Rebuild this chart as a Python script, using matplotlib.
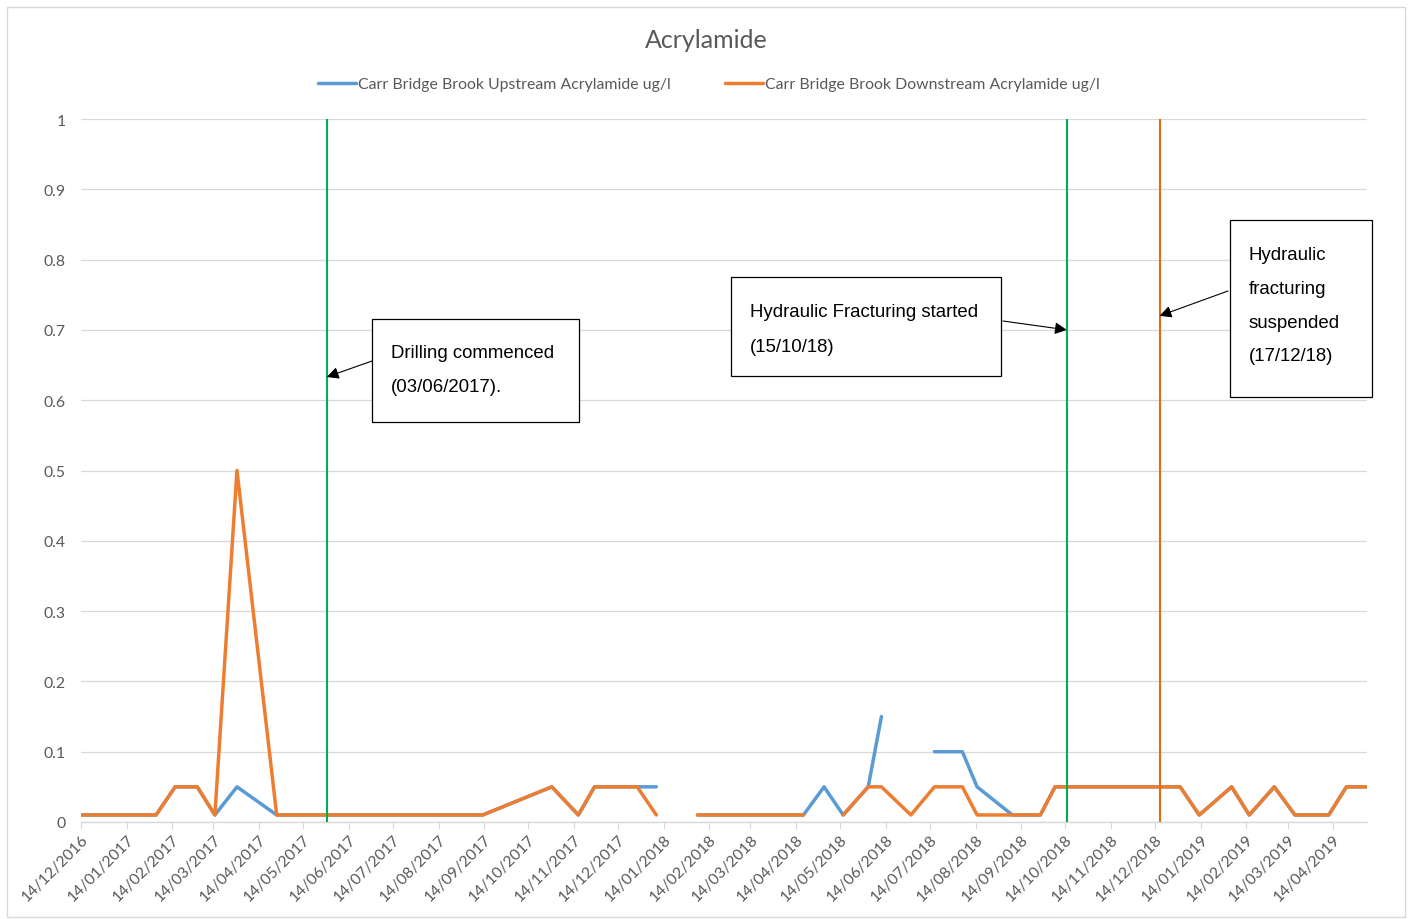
import numpy as np
import pandas as pd
import matplotlib
matplotlib.use("Agg")
import matplotlib.pyplot as plt
import matplotlib.dates as mdates
from matplotlib.patches import Rectangle

# ---------------- data ----------------
sample_dates = ["2016-12-14", "2017-02-03", "2017-02-16", "2017-03-03", "2017-03-15",
                "2017-03-30", "2017-04-26", "2017-09-13", "2017-10-30", "2017-11-17",
                "2017-11-28", "2017-12-27", "2018-01-09", "2018-01-23", "2018-02-06",
                "2018-04-19", "2018-05-03", "2018-05-16", "2018-06-02", "2018-06-11",
                "2018-07-01", "2018-07-17", "2018-08-05", "2018-08-15", "2018-09-08",
                "2018-09-27", "2018-10-07", "2018-12-31", "2019-01-13", "2019-02-04",
                "2019-02-16", "2019-03-05", "2019-03-19", "2019-04-11", "2019-04-23",
                "2019-05-07"]
nan = np.nan
upstream = [0.01, 0.01, 0.05, 0.05, 0.01, 0.05, 0.01, 0.01, 0.05, 0.01,
            0.05, 0.05, 0.05, nan, 0.01, 0.01, 0.05, 0.01, 0.05, 0.15,
            nan, 0.10, 0.10, 0.05, 0.01, 0.01, 0.05, 0.05, 0.01, 0.05,
            0.01, 0.05, 0.01, 0.01, 0.05, 0.05]
downstream = [0.01, 0.01, 0.05, 0.05, 0.01, 0.50, 0.01, 0.01, 0.05, 0.01,
              0.05, 0.05, 0.01, nan, 0.01, 0.01, nan, 0.01, 0.05, 0.05,
              0.01, 0.05, 0.05, 0.01, 0.01, 0.01, 0.05, 0.05, 0.01, 0.05,
              0.01, 0.05, 0.01, 0.01, 0.05, 0.05]
series_names = ["Carr Bridge Brook Upstream Acrylamide ug/l",
                "Carr Bridge Brook Downstream Acrylamide ug/l"]

event_dates = ["2017-05-30", "2018-10-15", "2018-12-17"]
event_colors = ["#00B050", "#00B050", "#E46C0A"]
event_texts = [["Drilling commenced", "(03/06/2017)."],
               ["Hydraulic Fracturing started", "(15/10/18)"],
               ["Hydraulic", "fracturing", "suspended", "(17/12/18)"]]
event_arrow_y = [0.633, 0.70, 0.72]

y_ticks = [0, 0.1, 0.2, 0.3, 0.4, 0.5, 0.6, 0.7, 0.8, 0.9, 1]
y_tick_labels = ["0", "0.1", "0.2", "0.3", "0.4", "0.5", "0.6", "0.7", "0.8", "0.9", "1"]

# ---------------- figure ----------------
W, H = 1413, 920
fig = plt.figure(figsize=(W / 100, H / 100), dpi=100)
fig.patch.set_facecolor("white")

def fx(px):
    return px / W

def fy(py):
    return 1 - py / H

# outer chart border
fig.patches.append(Rectangle((fx(7), fy(918)), fx(1405) - fx(7), fy(8) - fy(918),
                             transform=fig.transFigure, fill=False,
                             edgecolor="#D9D9D9", lw=1.0))

ax = fig.add_axes([fx(81), fy(823), fx(1367) - fx(81), fy(120) - fy(823)])
dates = pd.to_datetime(sample_dates)

blue = "#5B9BD5"
orange = "#ED7D31"
ax.plot(dates, upstream, color=blue, lw=2.5, solid_capstyle="round",
        solid_joinstyle="round", label=series_names[0], zorder=3)
ax.plot(dates, downstream, color=orange, lw=2.5, solid_capstyle="round",
        solid_joinstyle="round", label=series_names[1], zorder=4)

for d, c in zip(event_dates, event_colors):
    ax.axvline(pd.Timestamp(d), color=c, lw=1.5, zorder=5)

ax.set_xlim(dates[0], dates[-1])
ax.set_ylim(0, 1)
ax.set_yticks(y_ticks)
ax.set_yticklabels(y_tick_labels)
ax.grid(axis="y", color="#D9D9D9", lw=0.9)
ax.set_axisbelow(True)
for s in ["left", "right", "top"]:
    ax.spines[s].set_visible(False)
ax.spines["bottom"].set_color("#D9D9D9")
ax.spines["bottom"].set_linewidth(1.0)

ax.xaxis.set_major_locator(mdates.MonthLocator(bymonthday=14))
ax.xaxis.set_major_formatter(mdates.DateFormatter("%d/%m/%Y"))
ax.tick_params(axis="x", which="major", direction="out", length=5, color="#D9D9D9",
               labelsize=11.3, labelcolor="#595959", pad=2)
ax.tick_params(axis="y", length=0, labelsize=11.3, labelcolor="#595959", pad=11)
for lab in ax.get_xticklabels():
    lab.set_rotation(45)
    lab.set_ha("right")
    lab.set_rotation_mode("anchor")
for lab in ax.get_xticklabels() + ax.get_yticklabels():
    lab.set_family("Lato")

# title and legend
fig.text(fx(706), fy(40), "Acrylamide", ha="center", va="center", fontsize=18,
         color="#595959", family="Lato")
leg = fig.legend(loc="center", bbox_to_anchor=(fx(709), fy(85)), ncol=2, frameon=False,
                 handlelength=2.4, handletextpad=0.15, columnspacing=3.4,
                 prop={"family": "Lato", "size": 11.4})
for t in leg.get_texts():
    t.set_color("#595959")

# annotation boxes (pixel layout)
boxes = [(372, 320, 579, 423), (731, 278, 1001, 377), (1230, 221, 1372, 398)]
text_x = [391, 750, 1249]
text_first_y = [354, 313, 255]
line_step = 34
arrow_start = [(372, 362), (1003, 322), (1228, 292)]
for i in range(3):
    x0, y0, x1, y1 = boxes[i]
    fig.patches.append(Rectangle((fx(x0), fy(y1)), fx(x1) - fx(x0), fy(y0) - fy(y1),
                                 transform=fig.transFigure, facecolor="white",
                                 edgecolor="black", lw=0.9, zorder=10))
    for j, line in enumerate(event_texts[i]):
        fig.text(fx(text_x[i]), fy(text_first_y[i] + j * line_step), line,
                 ha="left", va="center", fontsize=13.4, family="Liberation Sans",
                 color="black", zorder=11)
    ax.annotate("", xy=(pd.Timestamp(event_dates[i]), event_arrow_y[i]),
                xytext=(fx(arrow_start[i][0]), fy(arrow_start[i][1])),
                textcoords="figure fraction",
                arrowprops=dict(arrowstyle="-|>", color="black", lw=0.8,
                                mutation_scale=18, shrinkA=0, shrinkB=0),
                zorder=12, annotation_clip=False)

fig.savefig("out.png", dpi=100, facecolor="white")
